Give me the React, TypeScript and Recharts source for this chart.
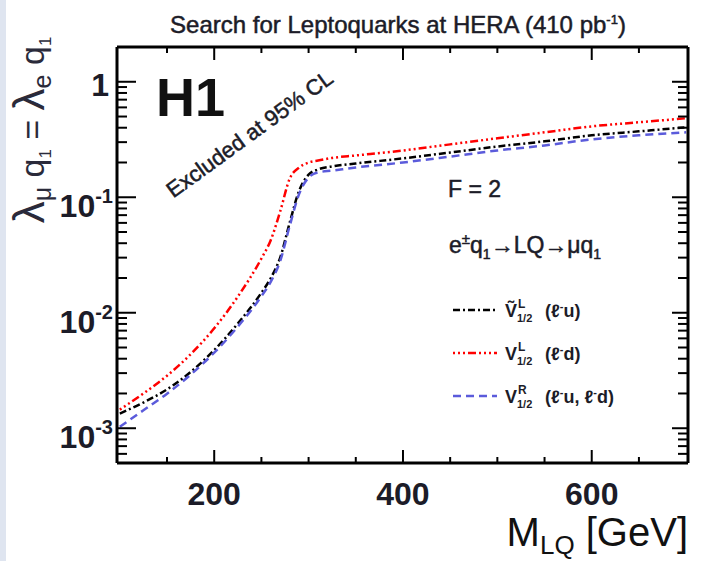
import React from 'react';
import { LineChart, Line, XAxis, YAxis } from 'recharts';

// leptoquark mass points (GeV) and 95% CL limits on the coupling
const massGeV = [100, 125, 150, 175, 200, 225, 250, 260, 270, 280, 290, 300, 310, 325, 350, 400, 450, 500, 550, 600, 650, 700];
const vTildeL = [0.00134, 0.00167, 0.00217, 0.00307, 0.00475, 0.00807, 0.0149, 0.02, 0.0302, 0.0603, 0.114, 0.157, 0.174, 0.185, 0.196, 0.217, 0.244, 0.275, 0.305, 0.344, 0.372, 0.403];
const vL = [0.00145, 0.002, 0.00285, 0.00437, 0.00733, 0.0138, 0.0295, 0.0427, 0.0759, 0.145, 0.181, 0.2, 0.208, 0.219, 0.23, 0.254, 0.287, 0.324, 0.365, 0.411, 0.446, 0.483];
const vR = [0.00103, 0.00143, 0.00199, 0.00291, 0.00451, 0.00759, 0.0139, 0.0186, 0.0282, 0.0566, 0.107, 0.148, 0.164, 0.17, 0.181, 0.2, 0.225, 0.254, 0.281, 0.317, 0.344, 0.365];

const xTicks = [150, 200, 250, 300, 350, 400, 450, 500, 550, 600, 650];
const xMajorTicks = [200, 400, 600];
const yTicks = [
  0.0005, 0.0006, 0.0007, 0.0008, 0.0009,
  0.001, 0.002, 0.003, 0.004, 0.005, 0.006, 0.007, 0.008, 0.009,
  0.01, 0.02, 0.03, 0.04, 0.05, 0.06, 0.07, 0.08, 0.09,
  0.1, 0.2, 0.3, 0.4, 0.5, 0.6, 0.7, 0.8, 0.9,
  1, 2,
];
const yMajorTicks = [0.001, 0.01, 0.1, 1];

const rows = massGeV.map((m, i) => ({ mass: m, vtl: vTildeL[i], vl: vL[i], vr: vR[i] }));

const series = [
  { key: 'vtl', color: '#000000', dash: '7 3 2 3', sym: '\u1E7C', sup: 'L', tail: ['u)'] },
  { key: 'vl', color: '#ff0000', dash: '2 3 2 3 2 3 8 3', sym: 'V', sup: 'L', tail: ['d)'] },
  { key: 'vr', color: '#5b5bdb', dash: '8 5', sym: 'V', sup: 'R', tail: ['u, \u2113', 'd)'] },
];

const FONT = "'Liberation Sans', Arial, Helvetica, sans-serif";
const INK = '#1c1c28';

const LeftTick = (props: any) => {
  const { x, y, payload } = props;
  const v = payload.value;
  const major = yMajorTicks.includes(v);
  const exp = Math.round(Math.log10(v));
  return (
    <g>
      <line x1={x} y1={y} x2={x + (major ? 19 : 10)} y2={y} stroke="#000" strokeWidth={2} />
      {major && v === 1 && (
        <text x={x - 8} y={y + 14} textAnchor="end" fontSize={32} fontWeight="bold" fontFamily={FONT} fill={INK}>1</text>
      )}
      {major && v !== 1 && (
        <text x={x - 4} y={y + 20} textAnchor="end" fontSize={32} fontWeight="bold" fontFamily={FONT} fill={INK}>
          10<tspan dy={-14} fontSize={20}>{exp}</tspan>
        </text>
      )}
    </g>
  );
};

const RightTick = (props: any) => {
  const { x, y, payload } = props;
  const major = yMajorTicks.includes(payload.value);
  return <line x1={x} y1={y} x2={x - (major ? 16 : 10)} y2={y} stroke="#000" strokeWidth={2} />;
};

const BottomTick = (props: any) => {
  const { x, y, payload } = props;
  const major = xMajorTicks.includes(payload.value);
  return (
    <g>
      <line x1={x} y1={y} x2={x} y2={y - (major ? 13 : 6)} stroke="#000" strokeWidth={2} />
      {major && (
        <text x={x} y={y + 42} textAnchor="middle" fontSize={32} fontWeight="bold" fontFamily={FONT} fill={INK}>
          {payload.value}
        </text>
      )}
    </g>
  );
};

const TopTick = (props: any) => {
  const { x, y, payload } = props;
  const major = xMajorTicks.includes(payload.value);
  return <line x1={x} y1={y} x2={x} y2={y + (major ? 13 : 6)} stroke="#000" strokeWidth={2} />;
};

const frame = { stroke: '#000', strokeWidth: 3 };
const heavy = { stroke: INK, strokeWidth: 0.5 };

export default function App() {
  return (
    <div style={{ position: 'absolute', left: 0, top: 0, width: 718, height: 561, background: '#fff', fontFamily: FONT }}>
      <div style={{ position: 'absolute', left: 0, top: 0, width: 6, height: 561, background: '#dfe5f0' }} />
      <LineChart width={718} height={561} data={rows} margin={{ top: 46, right: 29, bottom: 97, left: 116 }}>
        <XAxis
          xAxisId={0}
          type="number"
          dataKey="mass"
          domain={[97, 702]}
          ticks={xTicks}
          interval={0}
          allowDataOverflow
          height={1}
          tickSize={0}
          tickMargin={0}
          tickLine={false}
          axisLine={frame}
          tick={BottomTick}
        />
        <XAxis
          xAxisId="top"
          orientation="top"
          type="number"
          dataKey="mass"
          domain={[97, 702]}
          ticks={xTicks}
          interval={0}
          allowDataOverflow
          height={1}
          tickSize={0}
          tickMargin={0}
          tickLine={false}
          axisLine={frame}
          tick={TopTick}
        />
        <YAxis
          yAxisId={0}
          type="number"
          scale="log"
          domain={[0.0005, 2]}
          ticks={yTicks}
          interval={0}
          allowDataOverflow
          width={1}
          tickSize={0}
          tickMargin={0}
          tickLine={false}
          axisLine={frame}
          tick={LeftTick}
        />
        <YAxis
          yAxisId="right"
          orientation="right"
          type="number"
          scale="log"
          domain={[0.0005, 2]}
          ticks={yTicks}
          interval={0}
          allowDataOverflow
          width={1}
          tickSize={0}
          tickMargin={0}
          tickLine={false}
          axisLine={frame}
          tick={RightTick}
        />
        {series.map((s) => (
          <Line
            key={s.key}
            xAxisId={0}
            yAxisId={0}
            type="monotone"
            dataKey={s.key}
            stroke={s.color}
            strokeWidth={2.5}
            strokeDasharray={s.dash}
            dot={false}
            activeDot={false}
            isAnimationActive={false}
          />
        ))}
        {/* invisible copy so the top/right frame axes have a series bound to them */}
        <Line
          xAxisId="top"
          yAxisId="right"
          dataKey="vl"
          stroke="none"
          dot={false}
          activeDot={false}
          legendType="none"
          isAnimationActive={false}
        />
      </LineChart>

      <svg width={718} height={561} style={{ position: 'absolute', left: 0, top: 0, pointerEvents: 'none' }} fontFamily={FONT}>
        <text x={398} y={33} textAnchor="middle" fontSize={24} fill={INK} {...heavy}>
          Search for Leptoquarks at HERA (410 pb<tspan dy={-9} fontSize={13}>-1</tspan>
          <tspan dy={9}>)</tspan>
        </text>

        <text transform="translate(44,130) rotate(-90)" textAnchor="middle" fontSize={34} fill="#2a2a3a">
          <tspan fontSize={44}>λ</tspan>
          <tspan fontSize={25} dy={7}>μ</tspan>
          <tspan dy={-7}> q</tspan>
          <tspan fontSize={17} dy={7}>1</tspan>
          <tspan dy={-7}> = </tspan>
          <tspan fontSize={44}>λ</tspan>
          <tspan fontSize={25} dy={7}>e</tspan>
          <tspan dy={-7}> q</tspan>
          <tspan fontSize={17} dy={7}>1</tspan>
        </text>

        <text x={688} y={546} textAnchor="end" fontSize={40} fill="#111">
          M<tspan fontSize={26} dy={8}>LQ</tspan>
          <tspan dy={-8}> [GeV]</tspan>
        </text>

        <text x={156} y={116} fontSize={54} fontWeight="bold" fill="#111">H1</text>

        <text transform="translate(254,140) rotate(-36)" textAnchor="middle" fontSize={22} fill={INK} {...heavy}>
          Excluded at 95% CL
        </text>

        <text x={448} y={197} fontSize={23} fill={INK} {...heavy}>F = 2</text>

        <text x={449} y={253} fontSize={23} fill={INK} {...heavy}>
          e<tspan dy={-9} fontSize={15}>±</tspan>
          <tspan dy={9}>q</tspan>
          <tspan dy={6} fontSize={14}>1</tspan>
          <tspan dy={-6}>→LQ→μq</tspan>
          <tspan dy={6} fontSize={14}>1</tspan>
        </text>

        {series.map((s, i) => {
          const cy = 310 + i * 43;
          return (
            <g key={s.key}>
              <line x1={453} y1={cy} x2={497} y2={cy} stroke={s.color} strokeWidth={2.5} strokeDasharray={s.dash} />
              <text x={505} y={cy + 7} fontSize={18} fontWeight="bold" fill={INK}>{s.sym}</text>
              <text x={518} y={cy - 2} fontSize={12} fontWeight="bold" fill={INK}>{s.sup}</text>
              <text x={517} y={cy + 12} fontSize={11} fontWeight="bold" fill={INK}>1/2</text>
              <text x={545} y={cy + 7} fontSize={18} fontWeight="bold" fill={INK}>
                (
                {s.tail.map((t, j) => (
                  <React.Fragment key={j}>
                    {j === 0 ? '\u2113' : ''}
                    <tspan dy={-7} fontSize={11}>-</tspan>
                    <tspan dy={7}>{t}</tspan>
                  </React.Fragment>
                ))}
              </text>
            </g>
          );
        })}
      </svg>
    </div>
  );
}
